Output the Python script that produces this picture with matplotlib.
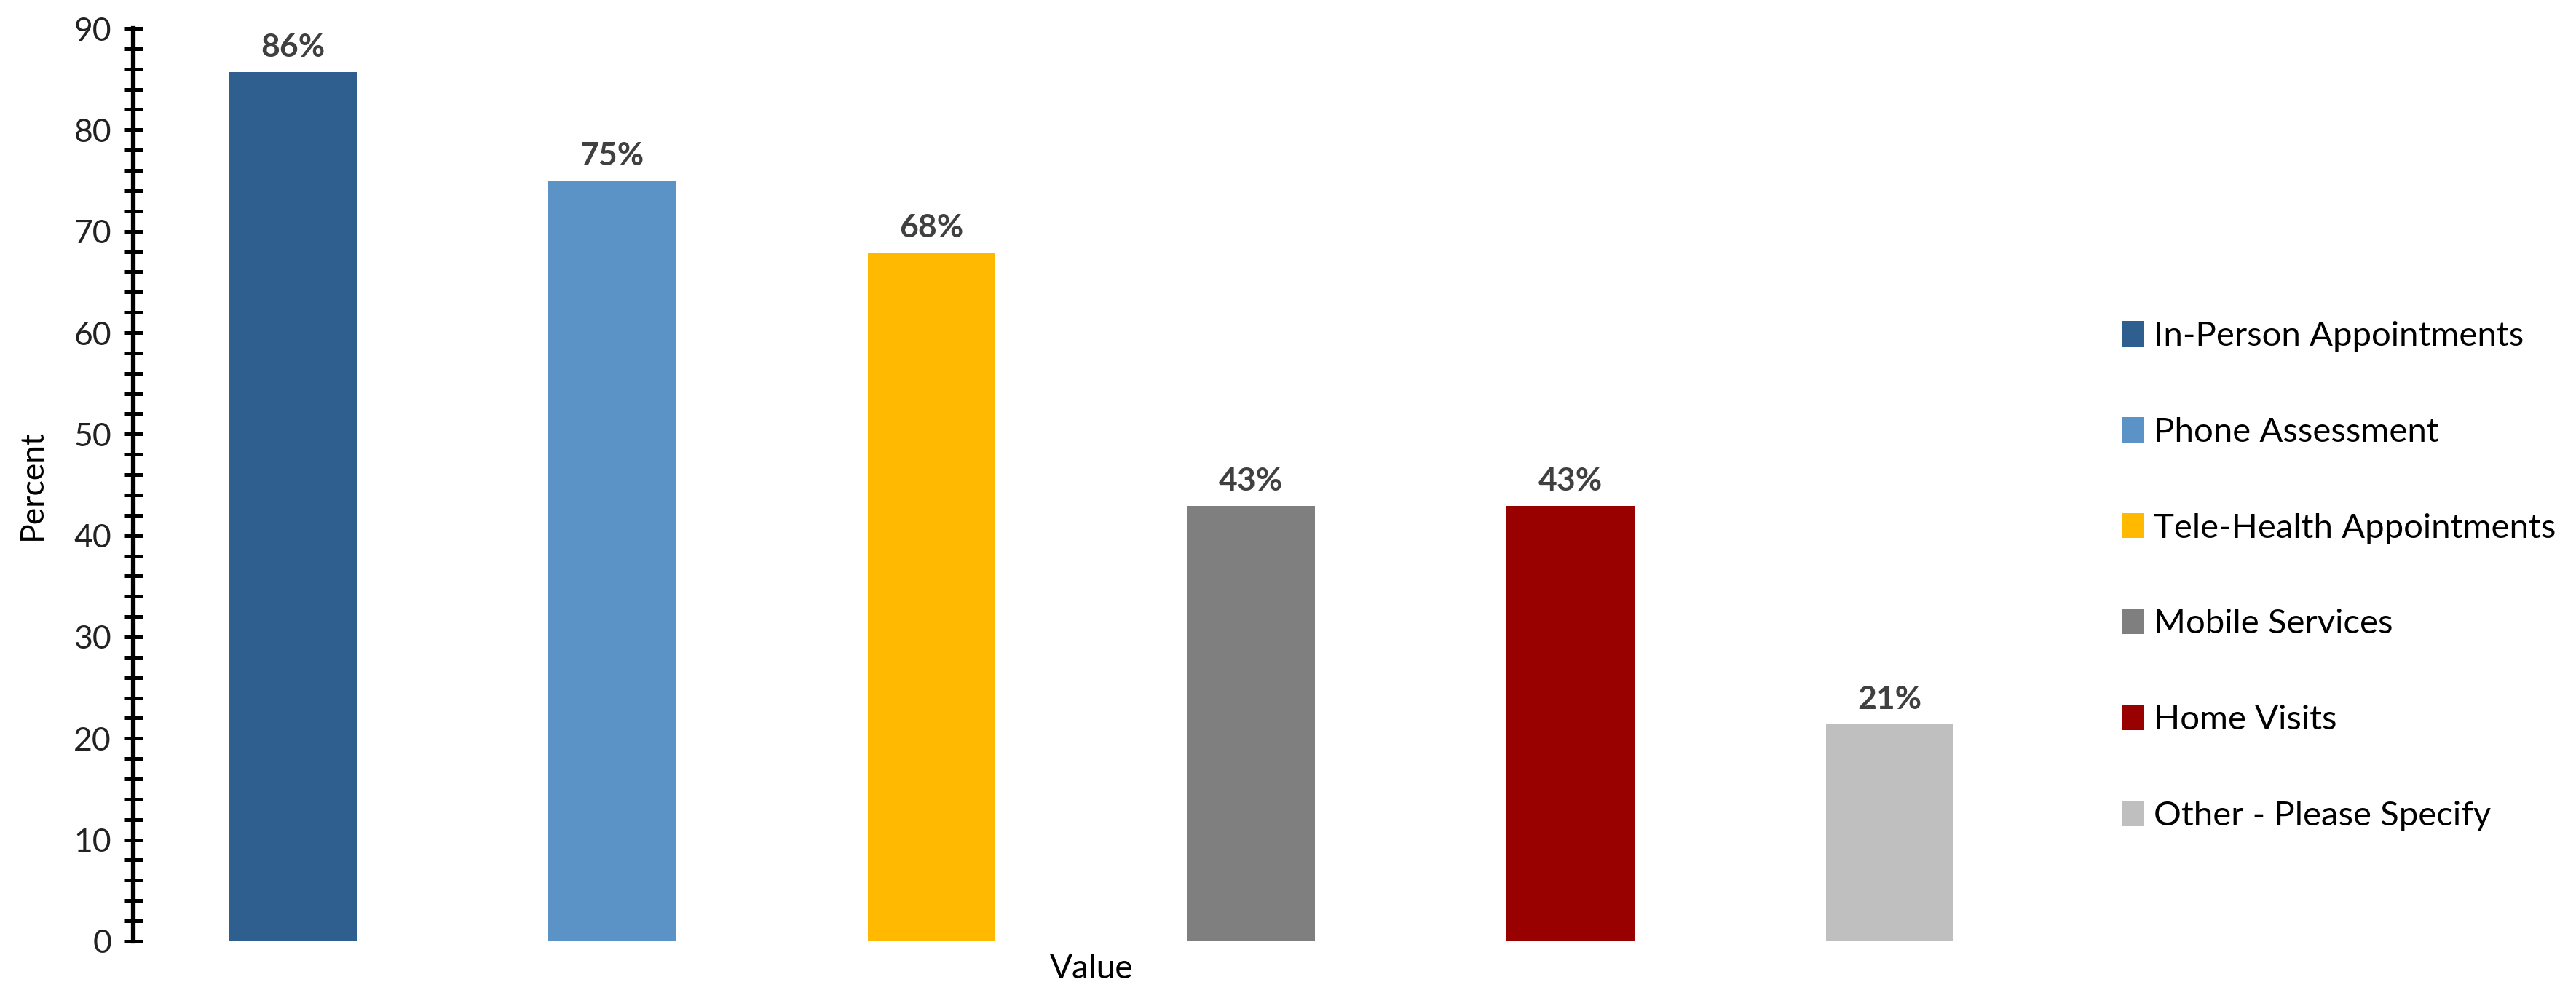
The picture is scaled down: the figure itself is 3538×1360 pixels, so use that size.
import numpy as np
import matplotlib.pyplot as plt
from matplotlib.ticker import MultipleLocator

plt.rcParams['font.family'] = ['Lato', 'DejaVu Sans']

categories = ["In-Person Appointments", "Phone Assessment", "Tele-Health Appointments",
              "Mobile Services", "Home Visits", "Other - Please Specify"]
percent = [85.7, 75.0, 67.9, 42.9, 42.9, 21.4]
colors = ["#2E5F8E", "#5B93C6", "#FFB900", "#7F7F7F", "#990000", "#BFBFBF"]

fig = plt.figure(figsize=(35.38, 13.6), dpi=100)
ax = fig.add_axes([0.0517, 0.0493, 0.7439, 0.922])

x = np.arange(len(categories))
bars = ax.bar(x, percent, width=0.4, color=colors, label=categories)

for xi, v in zip(x, percent):
    ax.annotate(f"{v:.0f}%", (xi, v), xytext=(0, 10), textcoords="offset points",
                ha="center", va="bottom", fontsize=32, fontweight="bold", color="#404040")

ax.set_xlim(-0.5, len(categories) - 0.5)
ax.set_ylim(0, 90)
ax.yaxis.set_major_locator(MultipleLocator(10))
ax.yaxis.set_minor_locator(MultipleLocator(2))
ax.tick_params(axis="y", which="both", direction="inout", length=19, width=3.6,
               color="black", labelsize=32, labelcolor="#222222", pad=12)
ax.set_xticks([])
for side in ("top", "right", "bottom"):
    ax.spines[side].set_visible(False)
ax.spines["left"].set_linewidth(4.5)

ax.set_ylabel("Percent", fontsize=32, labelpad=26)
ax.set_xlabel("Value", fontsize=33, labelpad=12)

fig.legend(handles=list(bars), labels=categories, loc="center left",
           bbox_to_anchor=(0.812, 0.418), frameon=False, fontsize=34,
           handlelength=0.6, handleheight=0.75, handletextpad=0.3, labelspacing=1.9)

fig.savefig("out.png", dpi=100)
